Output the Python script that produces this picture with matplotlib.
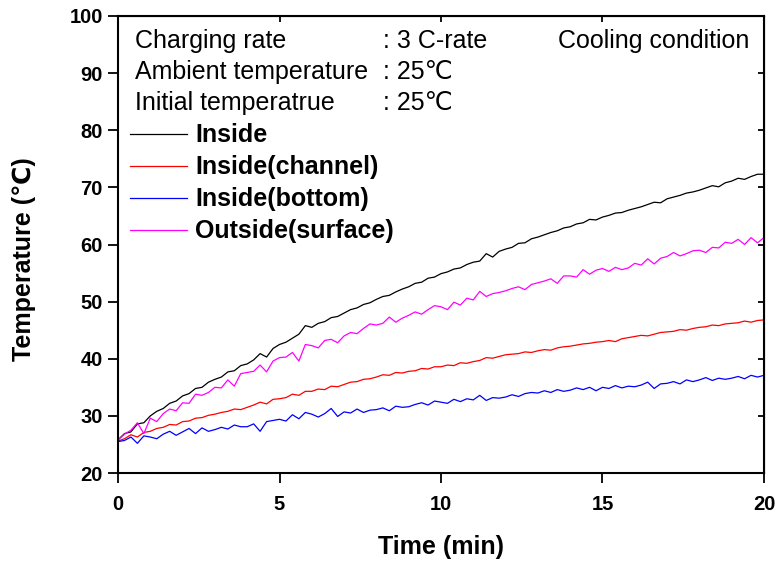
import numpy as np
import matplotlib
matplotlib.use("Agg")
import matplotlib.pyplot as plt

plt.rcParams['font.family'] = ['Liberation Sans', 'DejaVu Sans']

time_min = [round(0.2 * i, 1) for i in range(101)]

inside = [25.8,
    26.9, 27.2, 28.6, 28.8, 30.0,
    30.8, 31.3, 32.2, 32.6, 33.5,
    33.9, 34.8, 35.0, 35.9, 36.4,
    36.8, 37.7, 37.9, 38.8, 39.1,
    39.8, 40.9, 40.3, 41.8, 42.5,
    42.9, 43.6, 44.3, 45.8, 45.5,
    46.2, 46.5, 47.2, 47.4, 48.0,
    48.6, 48.9, 49.5, 49.8, 50.4,
    50.9, 51.1, 51.7, 52.2, 52.6,
    53.2, 53.4, 54.1, 54.3, 54.9,
    55.2, 55.7, 55.9, 56.5, 56.9,
    57.1, 58.4, 57.8, 58.8, 59.2,
    59.5, 60.2, 60.3, 61.0, 61.3,
    61.7, 62.1, 62.4, 62.9, 63.1,
    63.6, 63.8, 64.4, 64.3, 64.8,
    65.1, 65.5, 65.6, 66.0, 66.3,
    66.6, 67.0, 67.4, 67.3, 68.0,
    68.3, 68.6, 69.0, 69.2, 69.5,
    69.9, 70.3, 70.1, 70.8, 71.1,
    71.6, 71.4, 71.9, 72.3, 72.3]

inside_channel = [25.6,
    26.0, 26.7, 26.3, 27.1, 27.3,
    27.8, 28.0, 28.5, 28.4, 29.0,
    29.1, 29.6, 29.7, 30.1, 30.3,
    30.6, 30.8, 31.2, 31.1, 31.5,
    31.9, 32.4, 32.1, 32.9, 33.0,
    33.2, 33.8, 33.6, 34.3, 34.3,
    34.7, 34.6, 35.2, 35.1, 35.5,
    35.9, 36.0, 36.4, 36.5, 36.8,
    37.2, 37.1, 37.6, 37.5, 37.8,
    37.9, 38.3, 38.2, 38.6, 38.6,
    38.9, 38.8, 39.3, 39.2, 39.5,
    39.7, 40.2, 40.1, 40.4, 40.7,
    40.8, 40.9, 41.2, 41.1, 41.4,
    41.6, 41.5, 41.9, 42.1, 42.2,
    42.4, 42.6, 42.7, 42.9, 43.0,
    43.2, 43.0, 43.5, 43.7, 43.9,
    44.1, 44.0, 44.3, 44.6, 44.7,
    44.8, 45.1, 45.0, 45.3, 45.5,
    45.6, 45.9, 45.8, 46.1, 46.2,
    46.3, 46.6, 46.4, 46.7, 46.8]

inside_bottom = [25.5,
    25.7, 26.3, 25.2, 26.5, 26.3,
    26.0, 26.8, 27.3, 26.6, 27.2,
    27.8, 26.9, 27.9, 27.3, 27.6,
    28.0, 27.7, 28.4, 28.1, 28.1,
    28.6, 27.3, 29.0, 29.2, 29.4,
    29.1, 30.2, 29.5, 30.6, 30.3,
    29.8, 30.4, 31.3, 29.9, 30.7,
    30.5, 31.2, 30.6, 31.0, 31.1,
    31.4, 30.9, 31.7, 31.5, 31.6,
    32.0, 32.3, 31.9, 32.6, 32.4,
    32.2, 32.9, 32.5, 33.0, 32.8,
    33.6, 32.7, 33.2, 33.1, 33.3,
    33.7, 33.4, 33.9, 34.1, 34.0,
    34.4, 34.1, 34.6, 34.3, 34.5,
    34.9, 34.6, 35.0, 34.4, 35.0,
    34.8, 35.3, 34.9, 35.2, 35.1,
    35.4, 35.9, 34.8, 35.6, 35.7,
    36.0, 35.6, 36.3, 36.0, 36.3,
    36.7, 36.2, 36.6, 36.4, 36.6,
    36.9, 36.5, 37.1, 36.8, 37.1]

outside_surface = [25.8,
    26.8, 27.5, 28.8, 26.9, 29.6,
    29.0, 30.4, 31.2, 30.9, 32.3,
    32.2, 33.8, 33.6, 34.1, 35.0,
    34.9, 36.3, 35.2, 37.4, 37.6,
    37.8, 38.9, 37.7, 39.6, 40.2,
    40.3, 41.1, 39.6, 42.5, 42.3,
    41.9, 43.2, 43.4, 42.8, 44.0,
    44.6, 44.4, 45.3, 46.1, 45.9,
    46.2, 47.3, 46.4, 47.1, 47.6,
    48.2, 47.8, 48.6, 49.3, 49.1,
    48.6, 49.9, 49.4, 50.6, 50.3,
    51.8, 50.9, 51.4, 51.6, 51.9,
    52.3, 52.6, 52.1, 53.0, 53.3,
    53.6, 54.0, 53.2, 54.5, 54.5,
    54.3, 55.6, 54.8, 55.5, 55.8,
    55.3, 56.0, 55.6, 55.9, 56.7,
    56.4, 57.5, 56.6, 57.6, 57.9,
    58.6, 58.0, 58.4, 58.9, 59.0,
    58.6, 59.5, 59.4, 60.4, 60.2,
    60.9, 60.0, 61.2, 60.3, 61.2]

series_labels = ['Inside', 'Inside(channel)', 'Inside(bottom)', 'Outside(surface)']
series_colors = ['black', '#ff0000', '#0000ff', '#ff00ff']
x_ticks = [0, 5, 10, 15, 20]
y_ticks = [20, 30, 40, 50, 60, 70, 80, 90, 100]

fig = plt.figure(figsize=(7.79, 5.65), dpi=100)
ax = fig.add_axes([0.1515, 0.1628, 0.8292, 0.8089])

for vals, lab, col in zip([inside, inside_channel, inside_bottom, outside_surface],
                          series_labels, series_colors):
    ax.plot(time_min, vals, color=col, lw=0.9, label=lab)

ax.set_xlim(0, 20)
ax.set_ylim(20, 100)
ax.set_xticks(x_ticks)
ax.set_yticks(y_ticks)
for lbl in ax.get_xticklabels() + ax.get_yticklabels():
    lbl.set_fontweight('bold')
ax.tick_params(direction='out', length=7.5, width=1.3, labelsize=14.5)
ax.tick_params(axis='x', pad=8.2)
ax.tick_params(axis='y', pad=3.4)
for s in ax.spines.values():
    s.set_linewidth(1.5)

secx = ax.secondary_xaxis('top')
secx.set_xticks(x_ticks)
secx.tick_params(direction='in', length=4, width=1.3, labeltop=False)
secy = ax.secondary_yaxis('right')
secy.set_yticks(y_ticks)
secy.tick_params(direction='in', length=4, width=1.3, labelright=False)

ax.set_xlabel('Time (min)', fontsize=18, fontweight='bold', labelpad=15)
ax.set_ylabel('Temperature (℃)', fontsize=18, fontweight='bold')
ax.yaxis.set_label_coords(-0.127, 0.468)

tx = dict(fontsize=18, transform=ax.transAxes, va='baseline', ha='left')
ax.text(0.026, 0.930, 'Charging rate', **tx)
ax.text(0.410, 0.930, ': 3 C-rate', **tx)
ax.text(0.681, 0.930, 'Cooling condition', **tx)
ax.text(0.026, 0.862, 'Ambient temperature', **tx)
ax.text(0.410, 0.862, ': 25℃', **tx)
ax.text(0.026, 0.795, 'Initial temperatrue', **tx)
ax.text(0.410, 0.795, ': 25℃', **tx)

leg = ax.legend(loc='upper left', bbox_to_anchor=(0.0186, 0.765), frameon=False,
                prop={'weight': 'bold', 'size': 18}, handlelength=2.28,
                handletextpad=0.33, labelspacing=0.32, borderaxespad=0.0,
                borderpad=0.0)

fig.savefig('out.png', dpi=100)
